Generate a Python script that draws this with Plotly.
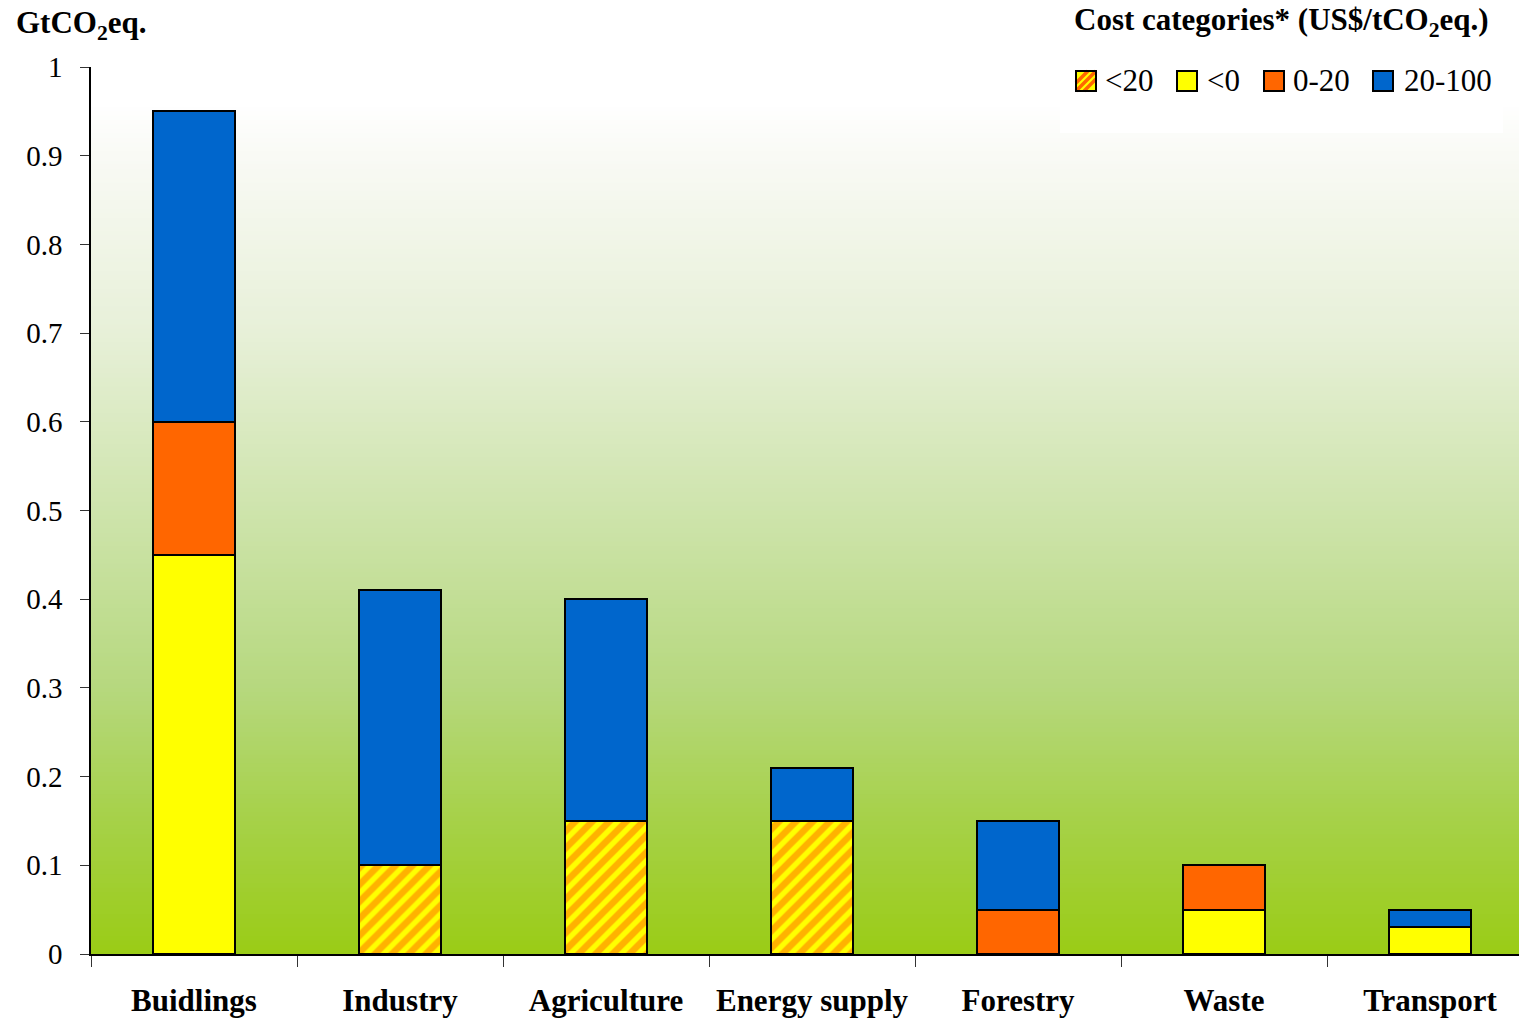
import plotly.graph_objects as go

# Sectors and abatement potential (GtCO2eq.) by cost category (US$/tCO2eq.)
sectors = ["Buidlings", "Industry", "Agriculture", "Energy supply", "Forestry", "Waste", "Transport"]
below_20 = [0, 0.10, 0.15, 0.15, 0, 0, 0]          # hatched: <20
below_0 = [0.45, 0, 0, 0, 0, 0.05, 0.03]          # <0
from_0_to_20 = [0.15, 0, 0, 0, 0.05, 0.05, 0]     # 0-20
from_20_to_100 = [0.35, 0.31, 0.25, 0.06, 0.10, 0, 0.02]  # 20-100

y_ticks = [0, 0.1, 0.2, 0.3, 0.4, 0.5, 0.6, 0.7, 0.8, 0.9, 1]
y_tick_text = ["0", "0.1", "0.2", "0.3", "0.4", "0.5", "0.6", "0.7", "0.8", "0.9", "1"]

legend_labels = ["<20", "<0", "0-20", "20-100"]

SERIF = "Liberation Serif, Times New Roman, serif"
YELLOW, ORANGE, BLUE = "#ffff00", "#ff6600", "#0066cc"
edge = dict(color="black", width=2)

fig = go.Figure()
fig.add_bar(name="<20", x=sectors, y=below_20,
            marker=dict(color=YELLOW, line=edge,
                        pattern=dict(shape="/", fgcolor=ORANGE, size=12,
                                     solidity=0.55, fillmode="overlay")))
fig.add_bar(name="<0", x=sectors, y=below_0, marker=dict(color=YELLOW, line=edge))
fig.add_bar(name="0-20", x=sectors, y=from_0_to_20, marker=dict(color=ORANGE, line=edge))
fig.add_bar(name="20-100", x=sectors, y=from_20_to_100, marker=dict(color=BLUE, line=edge))

# plot-area geometry in pixels (used to place the legend key)
W, H = 1519, 1018
L, R, T, B = 91, 0, 67, 64
PW, PH = W - L - R, H - T - B


def px(x):
    return (x - L) / PW


def py(y):
    return (H - B - y) / PH


# vertical white-to-green background gradient behind the bars
stops = [
    (0.00, (154, 204, 22)),
    (0.15, (166, 209, 72)),
    (0.30, (182, 216, 126)),
    (0.50, (206, 228, 172)),
    (0.70, (231, 240, 216)),
    (0.90, (249, 250, 245)),
    (0.96, (255, 255, 255)),
    (1.00, (255, 255, 255)),
]


def shade(v):
    for (a, ca), (b, cb) in zip(stops[:-1], stops[1:]):
        if a <= v <= b:
            t = (v - a) / (b - a) if b > a else 0
            return "rgb(%d,%d,%d)" % tuple(round(ca[i] + (cb[i] - ca[i]) * t) for i in range(3))
    return "rgb(255,255,255)"


shapes = []
n_strips = 200
for k in range(n_strips):
    y0 = k / n_strips
    y1 = (k + 1) / n_strips
    shapes.append(dict(type="rect", xref="paper", yref="y", x0=0, x1=1,
                       y0=y0, y1=y1 + 0.001, fillcolor=shade((y0 + y1) / 2),
                       line=dict(width=0), layer="below"))

# white panel behind the legend key
shapes.append(dict(type="rect", xref="paper", yref="paper",
                   x0=px(1060), x1=px(1503), y0=py(133), y1=py(50),
                   fillcolor="white", line=dict(width=0), layer="below"))

# legend key: swatches + labels
swatch_x = [1076, 1177, 1264, 1373]
text_x = [1103, 1205, 1291, 1402]
swatch_fill = [YELLOW, YELLOW, ORANGE, BLUE]
sy0, sy1 = 71, 91
annotations = []
for i, lab in enumerate(legend_labels):
    x0, x1 = swatch_x[i], swatch_x[i] + 20
    shapes.append(dict(type="rect", xref="paper", yref="paper",
                       x0=px(x0), x1=px(x1), y0=py(sy1), y1=py(sy0),
                       fillcolor=swatch_fill[i], line=dict(width=0)))
    if i == 0:
        # diagonal orange hatching inside the first swatch
        for c in (-8, 0, 8):
            pts = []
            for t in range(0, 21):
                xx = x0 + t
                yy = sy1 - (t - c)
                if sy0 <= yy <= sy1:
                    pts.append((xx, yy))
            if len(pts) >= 2:
                shapes.append(dict(type="line", xref="paper", yref="paper",
                                   x0=px(pts[0][0]), y0=py(pts[0][1]),
                                   x1=px(pts[-1][0]), y1=py(pts[-1][1]),
                                   line=dict(color=ORANGE, width=3.5)))
    shapes.append(dict(type="rect", xref="paper", yref="paper",
                       x0=px(x0), x1=px(x1), y0=py(sy1), y1=py(sy0),
                       fillcolor="rgba(0,0,0,0)", line=dict(color="black", width=2)))
    annotations.append(dict(text=lab, xref="paper", yref="paper",
                            x=px(text_x[i]), y=py(81), xanchor="left", yanchor="middle",
                            showarrow=False,
                            font=dict(family=SERIF, size=31, color="black")))

annotations.append(dict(text="<b>Cost categories* (US$/tCO<sub>2</sub>eq.)</b>",
                        xref="paper", yref="paper", x=px(1072), y=py(22),
                        xanchor="left", yanchor="middle", showarrow=False,
                        font=dict(family=SERIF, size=31, color="black")))
annotations.append(dict(text="<b>GtCO<sub>2</sub>eq.</b>", xref="paper", yref="paper",
                        x=px(14), y=py(25), xanchor="left", yanchor="middle",
                        showarrow=False, font=dict(family=SERIF, size=31, color="black")))

fig.update_layout(
    barmode="stack",
    bargap=0.6,
    width=W,
    height=H,
    margin=dict(l=L, r=R, t=T, b=B),
    paper_bgcolor="white",
    plot_bgcolor="white",
    shapes=shapes,
    annotations=annotations,
    font=dict(family=SERIF, color="black", size=28),
    showlegend=False,
)

fig.update_xaxes(
    type="category",
    range=[-0.5, 6.432],
    showline=True, linecolor="black", linewidth=1.5,
    ticks="outside", tickson="boundaries", ticklen=11, tickcolor="#333333",
    tickfont=dict(family=SERIF, size=31, color="black", weight="bold"),
    ticklabelstandoff=18,
    showgrid=False, zeroline=False,
)
fig.update_yaxes(
    range=[0, 1],
    tickvals=y_ticks, ticktext=y_tick_text,
    showline=True, linecolor="black", linewidth=1.5,
    ticks="outside", ticklen=9, tickcolor="#333333",
    tickfont=dict(family=SERIF, size=29, color="black"),
    ticklabelstandoff=12,
    showgrid=False, zeroline=False,
)

fig.write_html("out.html")
